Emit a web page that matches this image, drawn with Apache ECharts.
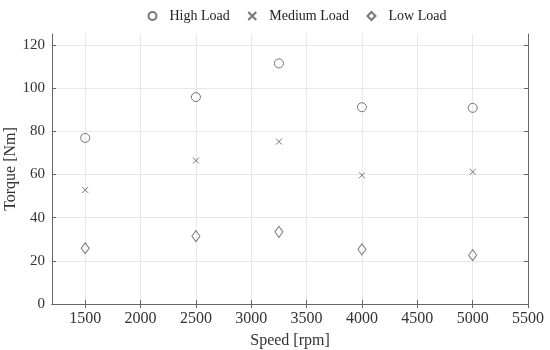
<!DOCTYPE html>
<html><head><meta charset="utf-8">
<script src="https://cdn.jsdelivr.net/npm/echarts@6/dist/echarts.min.js"></script>
<style>html,body{margin:0;padding:0;background:#fff}#c{width:550px;height:350px}</style>
</head><body><div id="c"></div>
<script>
const speeds = [1500, 2500, 3250, 4000, 5000];
const highLoad = [76.9, 95.8, 111.4, 91.1, 90.8];
const mediumLoad = [52.8, 66.4, 75.2, 59.6, 61.2];
const lowLoad = [25.8, 31.4, 33.4, 25.3, 22.6];
const xTicks = [1500, 2000, 2500, 3000, 3500, 4000, 4500, 5000, 5500];
const yTicks = [0, 20, 40, 60, 80, 100, 120];
const seriesNames = ['High Load', 'Medium Load', 'Low Load'];

const FONT = 'Liberation Serif';
const mk = '#555555';
const pair = (ys) => speeds.map((x, i) => [x, ys[i]]);
const crossPath = 'path://M0,0L10,10M10,0L0,10';
const plain = (v) => String(v);

const chart = echarts.init(document.getElementById('c'), null, {renderer: 'canvas'});
const xBase = {type: 'value', min: 1200, max: 5500, gridIndex: 0};
const yBase = {type: 'value', min: 0, max: 125, gridIndex: 0};
chart.setOption({
  animation: false,
  backgroundColor: '#fff',
  textStyle: {fontFamily: FONT},
  legend: {
    top: 9, left: 146, padding: 0, itemGap: 16, itemWidth: 8, itemHeight: 8,
    textStyle: {fontFamily: FONT, fontSize: 14, color: '#222', padding: [0, 0, 0, 8]},
    data: seriesNames
  },
  grid: {left: 52, right: 22, top: 34, bottom: 46, show: false, containLabel: false, outerBoundsMode: 'none'},
  xAxis: [
    Object.assign({}, xBase, {
      position: 'bottom',
      name: 'Speed [rpm]', nameLocation: 'middle', nameGap: 29, nameMoveOverlap: false,
      nameTextStyle: {fontFamily: FONT, fontSize: 16, color: '#333'},
      axisLine: {show: true, lineStyle: {color: '#666', width: 1}},
      axisTick: {show: true, inside: true, length: 4, customValues: xTicks, lineStyle: {color: '#666'}},
      axisLabel: {customValues: xTicks, formatter: plain, fontFamily: FONT, fontSize: 16, color: '#333', margin: 7},
      splitLine: {show: true, lineStyle: {color: '#e8e8e8', width: 1}}
    }),
    Object.assign({}, xBase, {
      position: 'top',
      axisLine: {show: true, lineStyle: {color: '#666', width: 1}},
      axisTick: {show: true, inside: true, length: 4, customValues: xTicks, lineStyle: {color: '#666'}},
      axisLabel: {show: false},
      splitLine: {show: false}
    })
  ],
  yAxis: [
    Object.assign({}, yBase, {
      position: 'left',
      name: 'Torque [Nm]', nameLocation: 'middle', nameGap: 33, nameRotate: 90, nameMoveOverlap: false,
      nameTextStyle: {fontFamily: FONT, fontSize: 16, color: '#333'},
      axisLine: {show: true, lineStyle: {color: '#666', width: 1}},
      axisTick: {show: true, inside: true, length: 4, customValues: yTicks, lineStyle: {color: '#666'}},
      axisLabel: {customValues: yTicks, formatter: plain, fontFamily: FONT, fontSize: 15, color: '#333', margin: 7},
      splitLine: {show: true, lineStyle: {color: '#e8e8e8', width: 1}}
    }),
    Object.assign({}, yBase, {
      position: 'right',
      axisLine: {show: true, lineStyle: {color: '#666', width: 1}},
      axisTick: {show: true, inside: true, length: 4, customValues: yTicks, lineStyle: {color: '#666'}},
      axisLabel: {show: false},
      splitLine: {show: false}
    })
  ],
  series: [
    {name: seriesNames[0], type: 'scatter', data: pair(highLoad), symbol: 'circle', symbolSize: 9,
     itemStyle: {color: 'none', borderColor: mk, borderWidth: 1}},
    {name: seriesNames[1], type: 'scatter', data: pair(mediumLoad), symbol: crossPath, symbolSize: 6,
     itemStyle: {color: 'none', borderColor: mk, borderWidth: 1}},
    {name: seriesNames[2], type: 'scatter', data: pair(lowLoad), symbol: 'diamond', symbolSize: [8, 11],
     itemStyle: {color: 'none', borderColor: mk, borderWidth: 1}}
  ]
});
</script></body></html>
